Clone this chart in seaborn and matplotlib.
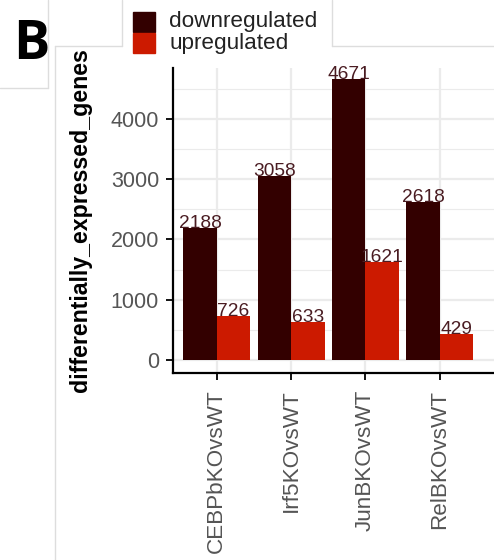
import numpy as np
import pandas as pd
import seaborn as sns
import matplotlib
matplotlib.use("Agg")
import matplotlib.pyplot as plt
from matplotlib.lines import Line2D
from matplotlib.patches import Rectangle
from matplotlib.ticker import MultipleLocator

# data
comparisons = ["CEBPbKOvsWT", "Irf5KOvsWT", "JunBKOvsWT", "RelBKOvsWT"]
downregulated = [2188, 3058, 4671, 2618]
upregulated = [726, 633, 1621, 429]
directions = ["downregulated", "upregulated"]
colors = ["#330000", "#CC1A00"]
y_ticks = [0, 1000, 2000, 3000, 4000]

df = pd.DataFrame({
    "comparison": comparisons * 2,
    "direction": [directions[0]] * 4 + [directions[1]] * 4,
    "differentially_expressed_genes": downregulated + upregulated,
})

sns.set_theme(style="white")
plt.rcParams["font.family"] = ["Liberation Sans", "DejaVu Sans"]

W, H = 494, 560
fig = plt.figure(figsize=(W / 100, H / 100), dpi=100)
ax = fig.add_axes([173 / W, (H - 373) / H, (W - 173) / W, (373 - 68) / H])

sns.barplot(data=df, x="comparison", y="differentially_expressed_genes",
            hue="direction", hue_order=directions, palette=colors,
            width=0.9, saturation=1, ax=ax, legend=False, zorder=3,
            linewidth=0, errorbar=None)

# value labels on top of each bar
for cont in ax.containers:
    for bar in cont:
        h = bar.get_height()
        ax.text(bar.get_x() + bar.get_width() / 2, h, f"{int(round(h))}",
                ha="center", va="baseline", fontsize=13.8, color="#4a1c22",
                zorder=4)

ax.set_xlim(-0.59, 3.73)
ax.set_ylim(-216, 4846)
ax.set_yticks(y_ticks)
ax.yaxis.set_minor_locator(MultipleLocator(500))
ax.grid(True, which="major", color="#EBEBEB", lw=1.6, zorder=0)
ax.grid(True, which="minor", axis="y", color="#EBEBEB", lw=0.8, zorder=0)
ax.set_axisbelow(True)

for s in ["top", "right"]:
    ax.spines[s].set_visible(False)
for s in ["left", "bottom"]:
    ax.spines[s].set_color("black")
    ax.spines[s].set_linewidth(1.6)

ax.tick_params(axis="both", which="major", direction="out", length=5, width=1.3,
               color="black", labelcolor="#555555", labelsize=15.5, pad=5,
               bottom=True, left=True)
ax.tick_params(axis="y", which="minor", length=0)
ax.tick_params(axis="x", labelrotation=90, pad=7)
for lab in ax.get_xticklabels():
    lab.set_va("top")
    lab.set_ha("center")
    lab.set_fontsize(16.2)

ax.set_xlabel("")
ax.set_ylabel("differentially_expressed_genes", fontsize=16.7,
              fontweight="bold", color="black")
ax.yaxis.set_label_coords(-0.252, 0.5)


def px(x, y):
    return x / W, 1 - y / H


# legend tab
for i, (lab, c) in enumerate(zip(directions, colors)):
    x0, y0 = px(133, 12 + 21 * i + 20)
    fig.add_artist(Rectangle((x0, y0), 22 / W, 20 / H, color=c,
                             transform=fig.transFigure))
    tx, ty = px(169, 22 + 21 * i)
    fig.text(tx, ty, lab, fontsize=16.2, color="#222222", va="center", ha="left")

# screenshot frame lines
frame = [((48, 0), (48, 88)), ((0, 88), (48, 88)),
         ((55, 46), (55, 560)), ((55, 46), (122, 46)),
         ((122, 0), (122, 46)), ((332, 0), (332, 46)),
         ((332, 46), (494, 46))]
for (xa, ya), (xb, yb) in frame:
    a, b = px(xa, ya), px(xb, yb)
    fig.add_artist(Line2D([a[0], b[0]], [a[1], b[1]], color="#DDDDDD", lw=1,
                          transform=fig.transFigure))

fig.text(*px(31, 45), "B", fontsize=39, fontweight="bold", color="black",
         ha="center", va="center", family="Open Sans")

fig.savefig("out.png", dpi=100)
